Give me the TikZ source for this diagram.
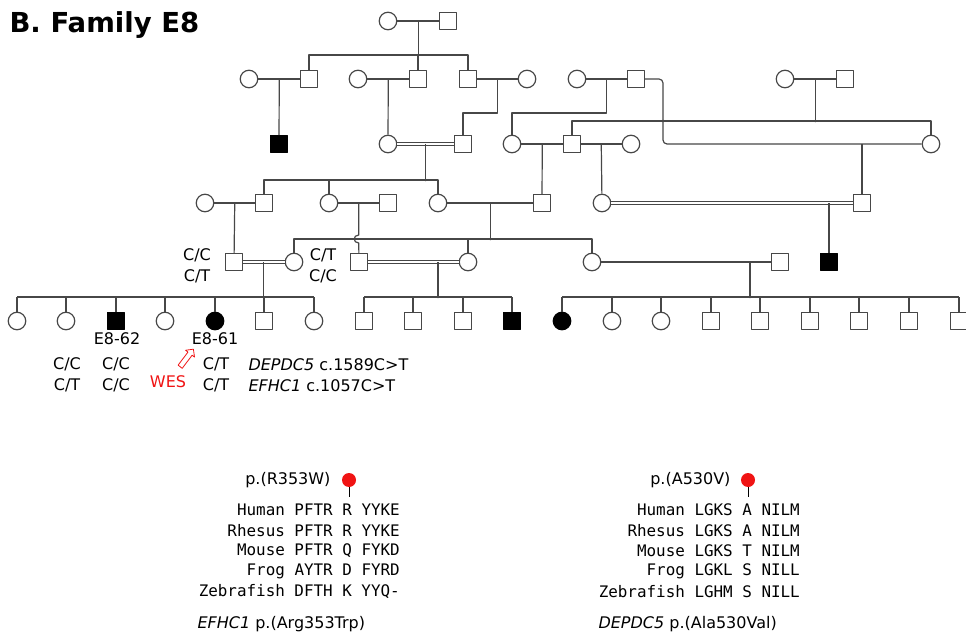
\documentclass[tikz,border=0pt]{standalone}
\usepackage{fontspec}
\setmainfont{DejaVu Sans}
\setmonofont{DejaVu Sans Mono}
\usetikzlibrary{calc,shapes.arrows}
\definecolor{PedInk}{gray}{0.28}
\definecolor{PedFill}{gray}{0.0}
\definecolor{PedText}{gray}{0.0}
\definecolor{PedRed}{RGB}{240,20,20}
\tikzset{
    ped/diagram/.style={
        x=1pt, y=-1pt,
        font=\fontsize{16}{20}\selectfont,
        text=PedText,
        line join=round
    },
    ped/line/.style={draw=PedInk, line width=1.2pt},
    ped/consang/.style={
        draw=PedInk, line width=1pt,
        double=white, double distance=2.6pt
    },
    ped/m/.style={
        draw=PedInk, fill=white, line width=1.2pt,
        minimum size=16.5pt, inner sep=0pt
    },
    ped/f/.style={ped/m, circle, minimum size=17.5pt},
    ped/M/.style={ped/m, fill=PedFill, draw=PedFill},
    ped/F/.style={ped/f, fill=PedFill, draw=PedFill},
    ped/geno/.style={align=center, font=\fontsize{16}{21}\selectfont},
    ped/seq/.style={
        anchor=east, inner sep=0pt,
        font=\ttfamily\fontsize{15.9}{20}\selectfont
    },
    ped/pin/.style={circle, fill=PedRed, draw=none, inner sep=0pt, minimum size=14pt},
    ped/stem/.style={draw=black, line width=1pt}
}

\begin{document}
\begin{tikzpicture}[ped/diagram]
    \useasboundingbox (0,0) rectangle (966,636);
    \node[anchor=base west, font=\bfseries\fontsize{27.5}{30}\selectfont] (title) at (6,33) {B. Family E8};
    % sibship rows
    \coordinate (r1) at (0,55);
    \coordinate (r2c) at (0,113);
    \coordinate (r2e) at (0,121);
    \coordinate (r3) at (0,180);
    \coordinate (r4) at (0,239);
    \coordinate (r5) at (0,297);
    % generation I
    \node[ped/f] (c1) at (388,21) {};
    \node[ped/m] (s1) at (448,21) {};
    \draw[ped/line] (c1) -- (s1) coordinate[midway] (m1);
    \draw[ped/line] (m1) -- (m1 |- r1);
    % generation II
    \node[ped/f] (c2a) at (249,79) {};
    \node[ped/m] (s2a) at (309,79) {};
    \node[ped/f] (c2b) at (358,79) {};
    \node[ped/m] (s2b) at (418,79) {};
    \node[ped/m] (s2c) at (468,79) {};
    \node[ped/f] (c2c) at (527,79) {};
    \node[ped/f] (c2d) at (577,79) {};
    \node[ped/m] (s2d) at (636,79) {};
    \node[ped/f] (c2e) at (785,79) {};
    \node[ped/m] (s2e) at (845,79) {};
    \draw[ped/line] (s2a) -- (s2a |- r1) -- (s2c |- r1) -- (s2c);
    \draw[ped/line] (s2b) -- (s2b |- r1);
    \draw[ped/line] (c2a) -- (s2a) coordinate[midway] (m2a);
    \draw[ped/line] (c2b) -- (s2b) coordinate[midway] (m2b);
    \draw[ped/line] (s2c) -- (c2c) coordinate[midway] (m2c);
    \draw[ped/line] (c2d) -- (s2d) coordinate[midway] (m2d);
    \draw[ped/line] (c2e) -- (s2e) coordinate[midway] (m2e);
    % generation III
    \node[ped/M] (a3a) at (279,144) {};
    \node[ped/f] (c3a) at (388,144) {};
    \node[ped/m] (s3a) at (463,144) {};
    \node[ped/f] (c3b) at (512,144) {};
    \node[ped/m] (s3b) at (572,144) {};
    \node[ped/f] (c3c) at (631,144) {};
    \node[ped/f] (c3d) at (931,144) {};
    \coordinate (k2d) at (663,144);
    \coordinate (m3d) at (862,144);
    \draw[ped/line] (m2a) -- (a3a);
    \draw[ped/line] (m2b) -- (c3a);
    \draw[ped/line] (m2c) -- (m2c |- r2c) -| (s3a);
    \draw[ped/line] (m2d) -- (m2d |- r2c) -| (c3b);
    \draw[ped/line] (m2e) -- (m2e |- r2e);
    \draw[ped/line] (s3b) -- (s3b |- r2e) -- (c3d |- r2e) -- (c3d);
    \draw[ped/line, rounded corners=4pt] (s2d) -| (k2d) -- (c3d);
    \draw[ped/consang] (c3a) -- (s3a) coordinate[midway] (m3a);
    \draw[ped/line] (c3b) -- (s3b) coordinate[midway] (m3b);
    \draw[ped/line] (s3b) -- (c3c) coordinate[midway] (m3c);
    % generation IV
    \node[ped/f] (c4a) at (205,203) {};
    \node[ped/m] (s4b) at (264,203) {};
    \node[ped/f] (c4c) at (329,203) {};
    \node[ped/m] (s4e) at (388,203) {};
    \node[ped/f] (c4d) at (438,203) {};
    \node[ped/m] (s4f) at (542,203) {};
    \node[ped/f] (c4g) at (602,203) {};
    \node[ped/m] (s4h) at (862,203) {};
    \coordinate (m4g) at (829,203);
    \draw[ped/line] (m3a) -- (m3a |- r3);
    \draw[ped/line] (s4b) -- (s4b |- r3) -- (c4d |- r3) -- (c4d);
    \draw[ped/line] (c4c) -- (c4c |- r3);
    \draw[ped/line] (m3b) -- (s4f);
    \draw[ped/line] (m3c) -- (c4g);
    \draw[ped/line] (m3d) -- (s4h);
    \draw[ped/line] (c4a) -- (s4b) coordinate[midway] (m4a);
    \draw[ped/line] (c4c) -- (s4e) coordinate[midway] (m4c);
    \draw[ped/line] (c4d) -- (s4f) coordinate[midway] (m4d);
    \draw[ped/consang] (c4g) -- (s4h);
    % generation V
    \node[ped/m] (s5a) at (234,262) {};
    \node[ped/f] (c5b) at (294,262) {};
    \node[ped/m] (s5c) at (359,262) {};
    \node[ped/f] (c5d) at (468,262) {};
    \node[ped/f] (c5e) at (592,262) {};
    \node[ped/m] (s5f) at (780,262) {};
    \node[ped/M] (a5g) at (829,262) {};
    \coordinate (m5c) at (438,262);
    \coordinate (m5e) at (750,262);
    \draw[ped/line] (m4a) -- (s5a);
    \draw[ped/line] (m4c) -- ($(m4c |- r4)+(0,-4)$)
        .. controls +(-6,0) and +(-6,0) .. ($(m4c |- r4)+(0,4)$) -- (s5c);
    \draw[ped/line] (m4d) -- (m4d |- r4);
    \draw[ped/line] (c5b) -- (c5b |- r4) -- (c5e |- r4) -- (c5e);
    \draw[ped/line] (c5d) -- (c5d |- r4);
    \draw[ped/line] (m4g) -- (a5g);
    \draw[ped/consang] (s5a) -- (c5b) coordinate[midway] (m5a);
    \draw[ped/consang] (s5c) -- (c5d);
    \draw[ped/line] (c5e) -- (s5f);
    % generation VI
    \foreach \xx/\sx [count=\i] in {17/f,66/f,116/M,165/f,215/F,264/m,314/f}{
        \node[ped/\sx] (a6\i) at (\xx,321) {};
        \draw[ped/line] (a6\i) -- (a6\i |- r5);
    }
    \foreach \xx/\sx [count=\i] in {364/m,413/m,463/m,512/M}{
        \node[ped/\sx] (b6\i) at (\xx,321) {};
        \draw[ped/line] (b6\i) -- (b6\i |- r5);
    }
    \foreach \xx/\sx [count=\i] in {562/F,612/f,661/f,711/m,760/m,810/m,859/m,909/m,959/m}{
        \node[ped/\sx] (d6\i) at (\xx,321) {};
        \draw[ped/line] (d6\i) -- (d6\i |- r5);
    }
    \draw[ped/line] (a61 |- r5) -- (a67 |- r5);
    \draw[ped/line] (b61 |- r5) -- (b64 |- r5);
    \draw[ped/line] (d61 |- r5) -- (d69 |- r5);
    \draw[ped/line] (m5a) -- (m5a |- r5);
    \draw[ped/line] (m5c) -- (m5c |- r5);
    \draw[ped/line] (m5e) -- (m5e |- r5);
    \foreach \pt in {{m1 |- r1},{m2e |- r2e},{k2d |- r2e},{m3a |- r3},{m4d |- r4},
                     {m5a |- r5},{m5c |- r5},{m5e |- r5}}
        \fill[PedInk] (\pt) circle (1.4);
    % labels and genotypes
    \node (id62) at (117,339) {E8-62};
    \node (id61) at (215,339) {E8-61};
    \node[ped/geno] (gt5a) at (197,266) {C/C\\C/T};
    \node[ped/geno] (gt5c) at (323,266) {C/T\\C/C};
    \node[ped/geno] (gt62a) at (67,375) {C/C\\C/T};
    \node[ped/geno] (gt62) at (116,375) {C/C\\C/C};
    \node[ped/geno] (gt61) at (216,375) {C/T\\C/T};
    \node[ped/geno, align=left, anchor=west] (variants) at (245,375)
        {\textit{DEPDC5} c.1589C>T\\\textit{EFHC1} c.1057C>T};
    \node[text=PedRed] (wes) at (168,382) {WES};
    \node[single arrow, draw=PedRed, fill=white, line width=0.8pt,
          minimum height=22pt, inner sep=2.2pt, single arrow head extend=3pt,
          rotate=53] (wesArrow) at (186,359) {};
    % conservation
    \node[anchor=east] (mutA) at (334,480) {p.(R353W)};
    \node[ped/pin] (pinA) at (349,480) {};
    \coordinate (pinAfoot) at (349,497);
    \draw[ped/stem] (pinA) -- (pinAfoot);
    \foreach \sp/\sq [count=\i] in {Human/PFTR R YYKE,Rhesus/PFTR R YYKE,
            Mouse/PFTR Q FYKD,Frog/AYTR D FYRD,Zebrafish/DFTH K YYQ-}
        \node[ped/seq] (efhc\i) at (400,489.5+20.5*\i) {\sp\ \sq};
    \node[anchor=west] (capA) at (194,624) {\textit{EFHC1} p.(Arg353Trp)};
    \node[anchor=east] (mutB) at (734,480) {p.(A530V)};
    \node[ped/pin] (pinB) at (748,480) {};
    \coordinate (pinBfoot) at (748,497);
    \draw[ped/stem] (pinB) -- (pinBfoot);
    \foreach \sp/\sq [count=\i] in {Human/LGKS A NILM,Rhesus/LGKS A NILM,
            Mouse/LGKS T NILM,Frog/LGKL S NILL,Zebrafish/LGHM S NILL}
        \node[ped/seq] (depdc\i) at (800,489.5+20.5*\i) {\sp\ \sq};
    \node[anchor=west] (capB) at (595,624) {\textit{DEPDC5} p.(Ala530Val)};
\end{tikzpicture}
\end{document}
